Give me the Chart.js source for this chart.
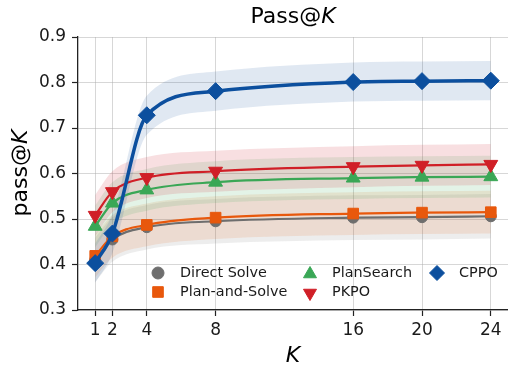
<!DOCTYPE html>
<html><head><meta charset="utf-8">
<script src="https://cdn.jsdelivr.net/npm/chart.js@4/dist/chart.umd.min.js"></script>
<style>html,body{margin:0;padding:0;background:#fff}#wrap{width:508px;height:367px;position:relative}</style>
</head><body><div id="wrap"><canvas id="c" width="508" height="367"></canvas></div>
<script>
const kValues = [1, 2, 4, 8, 16, 20, 24];
const xTicks = [1, 2, 4, 8, 16, 20, 24];
const yTicks = [0.3, 0.4, 0.5, 0.6, 0.7, 0.8, 0.9];
const seriesNames = ['Direct Solve', 'Plan-and-Solve', 'PlanSearch', 'PKPO', 'CPPO'];
const directSolve   = [0.410, 0.455, 0.482, 0.495, 0.503, 0.504, 0.506];
const planAndSolve  = [0.419, 0.462, 0.487, 0.503, 0.512, 0.514, 0.515];
const planSearch    = [0.484, 0.535, 0.564, 0.581, 0.590, 0.592, 0.593];
const pkpo          = [0.508, 0.560, 0.591, 0.605, 0.615, 0.618, 0.620];
const cppo          = [0.403, 0.468, 0.728, 0.781, 0.801, 0.803, 0.804];
const spreads       = [0.049, 0.047, 0.046, 0.045, 0.043];

const colors = ['#6e6e6e', '#e8580c', '#3aa756', '#d01f27', '#0c4f9e'];
const bandColors = ['rgba(110,110,110,0.12)', 'rgba(232,88,12,0.12)', 'rgba(58,167,86,0.14)', 'rgba(208,31,39,0.14)', 'rgba(12,79,158,0.13)'];
const styles = ['circle', 'rect', 'triangle', 'triangle', 'rectRot'];
const rotations = [0, 0, 0, 180, 0];
const radii = [5.5, 7.5, 8, 8, 8.5];
const widths = [2.2, 2.2, 2.2, 2.2, 3.5];
const allSeries = [directSolve, planAndSolve, planSearch, pkpo, cppo];

const FONT = "'DejaVu Sans', sans-serif";
const datasets = [];
allSeries.forEach((vals, i) => {
  datasets.push({
    label: seriesNames[i],
    data: vals.map((v, j) => ({x: kValues[j], y: v})),
    borderColor: colors[i], backgroundColor: colors[i],
    borderWidth: widths[i], pointStyle: styles[i], rotation: rotations[i],
    pointRadius: radii[i], pointBorderWidth: 1, pointBorderColor: colors[i],
    pointBackgroundColor: colors[i],
    cubicInterpolationMode: 'monotone', fill: false, order: 10 - i, clip: false
  });
});
allSeries.forEach((vals, i) => {
  datasets.push({
    label: seriesNames[i] + ' upper',
    data: vals.map((v, j) => ({x: kValues[j], y: v + spreads[i]})),
    borderWidth: 0, pointRadius: 0, borderColor: 'rgba(0,0,0,0)',
    backgroundColor: bandColors[i], fill: '+1',
    cubicInterpolationMode: 'monotone', order: 30 - i
  });
  datasets.push({
    label: seriesNames[i] + ' lower',
    data: vals.map((v, j) => ({x: kValues[j], y: v - spreads[i]})),
    borderWidth: 0, pointRadius: 0, borderColor: 'rgba(0,0,0,0)',
    backgroundColor: 'rgba(0,0,0,0)', fill: false,
    cubicInterpolationMode: 'monotone', order: 30 - i
  });
});

function drawMarker(ctx, style, rot, x, y, r, color) {
  ctx.save();
  ctx.fillStyle = color; ctx.strokeStyle = color; ctx.lineWidth = 1;
  ctx.translate(x, y); ctx.rotate(rot * Math.PI / 180);
  ctx.beginPath();
  if (style === 'circle') ctx.arc(0, 0, r, 0, Math.PI * 2);
  else if (style === 'rect') { const s = r * Math.SQRT1_2; ctx.rect(-s, -s, 2 * s, 2 * s); }
  else if (style === 'triangle') { ctx.moveTo(0, -r); ctx.lineTo(r * 0.866, r * 0.5); ctx.lineTo(-r * 0.866, r * 0.5); ctx.closePath(); }
  else if (style === 'rectRot') { ctx.moveTo(0, -r); ctx.lineTo(r, 0); ctx.lineTo(0, r); ctx.lineTo(-r, 0); ctx.closePath(); }
  ctx.fill(); ctx.stroke();
  ctx.restore();
}

const legendPos = [[158, 273], [158, 292], [310, 273], [310, 292], [437, 273]];
const extras = {
  id: 'extras',
  afterDraw(chart) {
    const ctx = chart.ctx, ca = chart.chartArea;
    ctx.save();
    ctx.textBaseline = 'middle'; ctx.textAlign = 'left';
    ctx.font = '14.4px ' + FONT; ctx.fillStyle = '#1a1a1a';
    seriesNames.forEach((n, i) => {
      const [lx, ly] = legendPos[i];
      drawMarker(ctx, styles[i], rotations[i], lx, ly + (styles[i]==='triangle' ? 1 : 0), i === 0 ? 6 : 7.5, colors[i]);
      ctx.fillText(n, lx + 22, ly + 0.5);
    });
    const cx = (ca.left + ca.right) / 2;
    ctx.textBaseline = 'alphabetic';
    ctx.font = '22px ' + FONT;
    const t1 = 'Pass@';
    const w1 = ctx.measureText(t1).width;
    ctx.font = 'italic 22px ' + FONT;
    const w2 = ctx.measureText('K').width;
    let sx = cx - (w1 + w2) / 2;
    ctx.fillStyle = '#000';
    ctx.font = '22px ' + FONT; ctx.fillText(t1, sx, 23);
    ctx.font = 'italic 22px ' + FONT; ctx.fillText('K', sx + w1, 23);
    ctx.textAlign = 'center';
    ctx.fillText('K', cx, 361.5);
    ctx.save();
    ctx.translate(27, 173); ctx.rotate(-Math.PI / 2);
    ctx.textAlign = 'left';
    ctx.font = '22px ' + FONT;
    const a1 = ctx.measureText('pass@').width;
    ctx.font = 'italic 22px ' + FONT;
    const a2 = ctx.measureText('K').width;
    const st = -(a1 + a2) / 2;
    ctx.font = '22px ' + FONT; ctx.fillText('pass@', st, 0);
    ctx.font = 'italic 22px ' + FONT; ctx.fillText('K', st + a1, 0);
    ctx.restore();
    ctx.restore();
  }
};

new Chart(document.getElementById('c'), {
  type: 'line',
  data: {datasets},
  options: {
    responsive: false, animation: false, devicePixelRatio: 1,
    layout: {autoPadding: false, padding: {top: 37, right: 0, left: 0, bottom: 0}},
    plugins: {legend: {display: false}, tooltip: {enabled: false}, title: {display: false}},
    scales: {
      x: {
        type: 'linear', min: 0, max: 25,
        afterBuildTicks: s => { s.ticks = xTicks.map(v => ({value: v})); },
        afterFit: s => { s.height = 57; s.paddingLeft = 0; s.paddingRight = 0; },
        ticks: {font: {family: FONT, size: 17}, color: '#1a1a1a', padding: 4, maxRotation: 0, autoSkip: false},
        grid: {color: 'rgba(170,170,170,0.6)', lineWidth: 0.8, borderDash: [1.5, 2.5], tickColor: '#222', tickLength: 6, tickWidth: 1.2, tickBorderDash: []},
        border: {display: true, color: '#222', width: 1.3}
      },
      y: {
        type: 'linear', min: 0.3, max: 0.9,
        afterBuildTicks: s => { s.ticks = yTicks.map(v => ({value: v})); },
        afterFit: s => { s.width = 78; s.paddingTop = 0; s.paddingBottom = 0; },
        ticks: {font: {family: FONT, size: 17}, color: '#1a1a1a', padding: 6, callback: v => v.toFixed(1)},
        grid: {color: 'rgba(170,170,170,0.6)', lineWidth: 0.8, borderDash: [1.5, 2.5], tickColor: '#222', tickLength: 6, tickWidth: 1.2, tickBorderDash: []},
        border: {display: true, color: '#222', width: 1.3}
      }
    }
  },
  plugins: [extras]
});
</script></body></html>
